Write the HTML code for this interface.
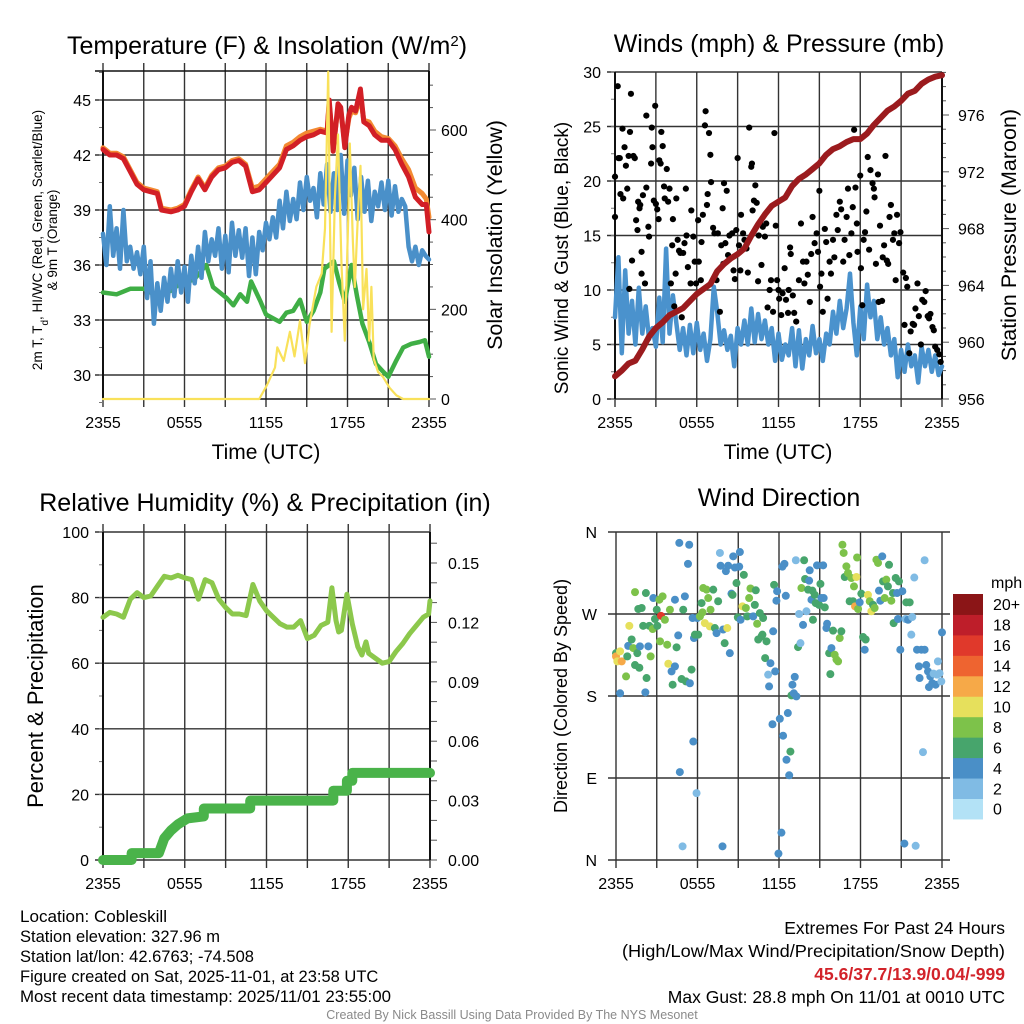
<!DOCTYPE html>
<html><head><meta charset="utf-8"><style>
html,body{margin:0;padding:0;background:#fff;}
svg{display:block;font-family:"Liberation Sans",sans-serif;}
</style></head><body>
<svg id="fig" width="1024" height="1024" viewBox="0 0 1024 1024" xmlns="http://www.w3.org/2000/svg">
<rect width="1024" height="1024" fill="#fff"/>
<text x="267" y="54" font-size="25" text-anchor="middle">Temperature (F) &amp; Insolation (W/m<tspan baseline-shift="super" font-size="15">2</tspan>)</text>
<text x="779" y="52" font-size="25" text-anchor="middle">Winds (mph) &amp; Pressure (mb)</text>
<text x="265" y="511" font-size="25" text-anchor="middle">Relative Humidity (%) &amp; Precipitation (in)</text>
<text x="779" y="506" font-size="25" text-anchor="middle">Wind Direction</text>

<g font-size="13.5" text-anchor="middle">
<text transform="translate(42,240) rotate(-90)">2m T, T<tspan baseline-shift="sub" font-size="10">d</tspan>, HI/WC (Red, Green, Scarlet/Blue)</text>
<text transform="translate(57,240) rotate(-90)">&amp; 9m T (Orange)</text>
</g>
<text transform="translate(502,235) rotate(-90)" font-size="21.5" text-anchor="middle">Solar Insolation (Yellow)</text>
<text transform="translate(568,258) rotate(-90)" font-size="19" text-anchor="middle">Sonic Wind &amp; Gust (Blue, Black)</text>
<text transform="translate(1016,235) rotate(-90)" font-size="21.5" text-anchor="middle">Station Pressure (Maroon)</text>
<text transform="translate(43,696) rotate(-90)" font-size="22" text-anchor="middle">Percent &amp; Precipitation</text>
<text transform="translate(567,696) rotate(-90)" font-size="18" text-anchor="middle">Direction (Colored By Speed)</text>
<text x="266" y="459" font-size="21" text-anchor="middle">Time (UTC)</text>
<text x="778" y="459" font-size="21" text-anchor="middle">Time (UTC)</text>

<g id="layer"></g>

<g font-size="16.5">
<text x="20" y="922" textLength="147" lengthAdjust="spacingAndGlyphs">Location: Cobleskill</text>
<text x="20" y="942">Station elevation: 327.96 m</text>
<text x="20" y="962">Station lat/lon: 42.6763; -74.508</text>
<text x="20" y="982">Figure created on Sat, 2025-11-01, at 23:58 UTC</text>
<text x="20" y="1002" textLength="371" lengthAdjust="spacingAndGlyphs">Most recent data timestamp: 2025/11/01 23:55:00</text>
</g>
<g font-size="17.5" text-anchor="end">
<text x="1005" y="934">Extremes For Past 24 Hours</text>
<text x="1005" y="957" textLength="383" lengthAdjust="spacingAndGlyphs">(High/Low/Max Wind/Precipitation/Snow Depth)</text>
<text x="1005" y="980" fill="#d2232a" font-weight="bold">45.6/37.7/13.9/0.04/-999</text>
<text x="1005" y="1003">Max Gust: 28.8 mph On 11/01 at 0010 UTC</text>
</g>
<text x="512" y="1019" font-size="12.5" fill="#8a8a8a" text-anchor="middle">Created By Nick Bassill Using Data Provided By The NYS Mesonet</text>
</svg>
<script>
// ---- x-axis ----
const timeTickLabels = ["2355","0555","1155","1755","2355"];
// ---- Panel 1: temperature ----
const redT = [0,0.5,1,1.5,2,2.5,3,3.5,4,4.3,5,5.5,6,6.5,7,7.5,8,8.5,9,9.5,10,10.5,11,11.5,12,12.5,13,13.5,14,14.5,15,15.5,16,16.5,16.65,16.95,17.3,17.5,17.8,18.1,18.3,18.6,18.95,19.2,19.6,20,20.5,21,21.5,22,22.5,23,23.5,23.8,24];
const redV = [42.3,42.0,42.0,41.8,41.1,40.4,40.1,40.0,39.9,39.0,38.9,39.0,39.2,40.0,40.7,40.1,40.8,41.2,41.3,41.6,41.7,41.4,40.0,40.1,40.5,40.9,41.3,42.3,42.5,42.8,43.0,43.1,43.3,43.2,45.0,42.2,44.8,44.6,42.4,44.2,44.6,44.4,45.6,43.8,43.6,43.1,42.8,42.8,42.3,41.5,40.8,39.7,39.3,39.3,37.8];
const orangeV = [42.4,42.1,42.1,41.9,41.2,40.5,40.2,40.1,40.0,39.1,39.0,39.1,39.3,40.1,40.8,40.2,40.9,41.3,41.4,41.7,41.8,41.5,40.2,40.3,40.7,41.1,41.5,42.5,42.7,43.0,43.2,43.3,43.4,43.3,44.8,42.4,44.6,44.5,42.6,44.0,44.4,44.3,45.2,43.9,43.8,43.3,43.0,42.9,42.5,41.8,41.2,40.2,39.9,39.6,38.6];
const blueV = [37.7,36.0,39.2,36.5,38.0,35.8,39.0,36.2,37.0,35.8,36.7,35.5,37.0,34.2,36.2,32.8,35.0,33.5,35.3,34.0,35.8,34.3,36.2,34.5,35.9,34.0,36.5,35.0,37.0,35.3,37.8,36.2,37.4,36.5,38.0,35.8,37.6,35.6,38.3,36.5,37.9,36.4,38.0,35.4,37.5,35.5,37.8,36.8,38.3,37.4,38.6,37.5,39.5,38.0,40.0,38.4,39.6,38.5,40.5,39.0,40.8,39.5,40.2,38.6,41.0,39.3,41.5,38.9,41.0,39.0,42.0,38.8,41.7,39.8,41.3,38.5,40.8,38.9,40.6,38.4,40.0,39.2,40.5,39.0,40.6,38.7,40.3,38.9,39.6,39.2,37.0,36.2,37.0,36.0,36.8,36.5,36.3];
const greenT = [0,1,2,3,4,5,5.7,6.7,7.6,8.1,9.1,9.6,10.1,10.6,10.9,11.6,12,13,13.5,14,14.5,15,15.5,16,16.3,17,17.4,17.8,18.3,18.7,19.1,19.6,20.1,20.6,21,21.6,22.1,22.7,23.3,23.7,24];
const greenV = [34.5,34.4,34.7,34.7,34.3,34.6,35.0,35.2,36.0,34.8,34.2,33.8,34.4,34.0,35.1,34.0,33.3,32.9,33.4,33.5,34.1,32.9,33.5,34.5,35.8,36.2,35.0,34.0,36.0,34.3,32.8,31.8,30.6,30.2,29.9,30.8,31.5,31.7,31.8,31.9,31.0];
const solarT = [0,11.5,12.05,12.66,12.83,13.3,13.76,14.1,14.5,14.87,15.2,15.7,16.1,16.34,16.58,16.7,16.83,17.07,17.3,17.56,17.8,18.05,18.17,18.4,18.54,18.78,18.96,19.15,19.4,19.6,19.76,19.93,20.25,20.6,21.1,21.6,22.1,24];
const solarV = [0,0,30,70,115,85,150,95,175,80,165,250,280,380,730,420,150,450,590,300,130,400,570,350,250,420,520,200,290,130,250,90,60,50,25,8,0,0];
const tempTicks = [30,33,36,39,42,45];
const solarTicks = [0,200,400,600];
// ---- Panel 2: winds ----
const windV = [7.5,13.0,4.2,11.8,6.0,9.0,5.0,10.2,6.0,8.5,5.5,6.5,4.8,9.3,5.2,13.8,6.0,9.5,7.0,4.5,6.5,4.0,6.8,4.2,7.0,4.5,6.0,3.5,5.5,10.3,8.0,5.0,6.3,4.5,5.8,3.0,6.5,5.0,7.2,5.0,8.3,5.2,7.8,5.5,7.2,5.0,6.5,3.5,6.0,3.6,5.0,4.0,6.5,3.0,6.3,2.8,5.5,4.0,6.7,4.2,5.5,3.5,6.0,5.0,8.0,6.0,9.0,6.5,8.3,11.5,7.0,4.0,8.5,5.5,10.5,7.5,9.0,5.5,7.5,5.0,6.5,4.0,5.5,2.0,4.5,2.5,5.0,3.0,4.0,1.5,4.8,3.0,4.5,2.5,4.0,2.2,3.0];
const gustT = [0,0,0.2,0.25,0.35,0.4,0.55,0.6,0.7,0.8,0.9,1.0,1.05,1.1,1.17,1.25,1.35,1.45,1.55,1.65,1.7,1.8,1.85,1.95,1.95,2.05,2.2,2.3,2.3,2.45,2.5,2.65,2.7,2.75,2.85,2.95,3.0,3.1,3.2,3.25,3.35,3.4,3.5,3.6,3.65,3.8,3.9,4.0,4.1,4.2,4.25,4.35,4.45,4.5,4.6,4.7,4.8,4.9,5.0,5.1,5.2,5.25,5.35,5.55,5.6,5.75,5.85,5.95,6.1,6.15,6.3,6.35,6.45,6.6,6.65,6.75,6.8,6.9,7.0,7.05,7.2,7.3,7.45,7.55,7.7,7.8,7.9,7.95,8.0,8.1,8.2,8.3,8.4,8.6,8.7,8.8,8.9,9.0,9.1,9.2,9.25,9.4,9.5,9.65,9.75,9.85,10.0,10.05,10.1,10.2,10.3,10.4,10.5,10.55,10.65,10.75,10.85,11.0,11.1,11.2,11.35,11.45,11.6,11.7,11.8,11.9,12.0,12.05,12.2,12.3,12.45,12.55,12.7,12.75,12.85,12.9,13.05,13.15,13.3,13.5,13.65,13.8,13.9,14.05,14.15,14.3,14.4,14.5,14.65,14.8,14.9,15.0,15.05,15.15,15.25,15.4,15.5,15.6,15.75,15.85,16.0,16.1,16.25,16.35,16.5,16.6,16.75,16.85,17.0,17.1,17.2,17.35,17.45,17.55,17.65,17.75,17.8,18.0,18.05,18.15,18.25,18.35,18.45,18.55,18.65,18.75,18.9,19.0,19.05,19.15,19.3,19.35,19.45,19.6,19.65,19.75,19.85,19.95,20.05,20.15,20.25,20.4,20.5,20.6,20.7,20.85,20.95,21.15,21.25,21.35,21.45,21.6,21.7,21.85,21.95,22.05,22.2,22.3,22.45,22.55,22.7,22.8,22.95,23.05,23.15,23.3,23.4,23.5,23.65,23.8,23.9];
const gustV = [16.7,20.4,28.7,22.1,22.1,18.8,24.8,18.4,23.1,21.4,19.3,22.3,10.1,24.5,28.0,12.7,22.3,22.1,16.4,15.5,18.1,17.5,17.8,13.5,11.5,18.7,10.6,26.0,19.4,15.8,14.9,21.6,24.9,23.1,18.2,26.9,17.9,17.4,16.5,21.9,21.6,24.5,23.2,19.5,18.4,21.1,18.1,19.3,10.6,14.1,16.5,8.5,11.5,18.4,14.6,13.6,13.4,7.5,13.4,14.3,19.3,15.0,12.1,10.6,17.3,14.9,12.6,10.6,16.4,12.6,10.9,14.4,16.9,25.1,26.4,17.8,18.8,24.4,22.4,19.9,15.7,15.2,10.9,15.2,8.0,14.1,17.5,12.4,19.8,14.3,19.1,13.2,15.0,15.2,11.8,11.0,15.5,22.1,14.1,11.8,16.9,15.2,14.6,13.8,11.6,24.9,21.3,21.6,17.3,18.2,19.6,18.0,10.8,15.0,16.1,12.3,15.8,14.9,16.1,8.4,10.0,10.9,8.0,24.4,15.9,10.9,10.0,9.2,7.7,9.7,12.0,9.1,7.9,10.0,13.9,13.3,9.5,7.9,7.1,10.9,16.1,12.6,10.6,12.6,11.4,8.9,13.3,16.7,14.3,15.2,13.5,19.1,10.3,11.5,8.0,15.6,14.4,9.2,12.6,11.5,14.6,13.0,16.9,15.5,18.1,17.4,12.6,14.6,16.7,19.3,13.2,15.2,17.6,24.7,19.4,16.1,13.5,20.5,12.0,8.6,14.6,15.3,17.2,22.2,13.7,21.0,19.8,19.3,18.5,12.4,20.6,8.9,15.9,9.0,13.0,14.1,22.3,12.7,12.4,16.7,17.8,14.6,15.2,10.9,16.9,14.3,15.3,11.6,6.8,11.1,10.3,4.2,6.2,6.9,6.8,8.3,10.6,7.6,5.0,9.1,8.9,9.9,7.6,7.4,7.8,6.6,6.3,4.8,4.5,4.1,3.4];
const presT = [0,0.5,1,1.5,2,2.5,3,3.5,4,5,6,7,7.5,8,8.5,9,9.5,10,10.5,11,11.5,12,12.5,13,13.5,14,14.5,15,15.5,16,16.5,17,17.5,18,18.5,19,19.5,20,20.5,21,21.5,22,22.5,23,23.5,24];
const presV = [957.6,958.0,958.5,958.7,959.5,960.4,961.0,961.4,961.9,962.4,963.4,964.1,965.0,965.5,965.9,966.2,966.6,967.5,968.3,969.0,969.6,969.9,970.2,971.0,971.5,971.8,972.2,972.6,973.2,973.6,973.8,974.1,974.3,974.3,974.7,975.3,975.8,976.3,976.6,977.0,977.5,977.7,978.2,978.5,978.7,978.8];
const windTicks = [0,5,10,15,20,25,30];
const presTicks = [956,960,964,968,972,976];
// ---- Panel 3: humidity ----
const rhT = [0,0.5,1,1.5,2,2.5,3,3.5,4,4.5,5,5.5,6,6.5,7,7.5,8,8.5,9,9.5,10,10.5,11,11.5,12,12.5,13,13.5,14,14.5,15,15.5,16,16.5,16.8,17.1,17.3,17.5,17.9,18.3,18.7,19,19.3,19.5,20,20.5,21,21.5,22,22.5,23,23.5,23.9,24];
const rhV = [74,75.5,75,74,79.5,81.5,80,80.5,83.5,86.5,86,86.8,86,85.5,79.5,85.5,84.5,79.5,77,75,75,74.5,84,79,76,74,72,71,71,73,67.5,68.5,71.5,72.5,83,73,69.5,70,81,72,65,62.5,66.5,63,61.5,60,60.5,63.5,66,69,71.5,74,75,79];
const precipT = [0,2.1,2.1,4.1,4.5,5.0,5.5,6.2,7.4,7.4,10.8,10.8,16.9,16.9,17.9,17.9,18.3,18.3,24];
const precipV = [0,0,0.0035,0.0035,0.011,0.015,0.018,0.021,0.022,0.026,0.026,0.030,0.030,0.035,0.035,0.040,0.040,0.044,0.044];
const rhTicks = [0,20,40,60,80,100];
const precipTicks = [0,0.03,0.06,0.09,0.12,0.15];
// ---- Panel 4: wind direction ----
const dirT = [0,0,0.1,0.3,0.42,0.3,0.74,0.83,0.9,0.98,1.15,1.27,1.4,1.4,1.57,1.64,1.72,1.76,1.89,2.0,2.16,2.2,2.25,2.38,2.45,2.55,2.7,2.75,2.87,3.0,3.04,3.19,3.24,3.31,3.43,3.6,3.77,3.85,3.97,4.09,4.17,4.34,4.34,4.46,4.58,4.66,4.7,4.83,4.9,4.95,5.07,5.15,5.3,5.39,5.44,5.56,5.64,5.69,5.74,5.81,5.93,5.98,6.05,6.18,6.3,6.37,6.42,6.54,6.67,6.79,6.91,6.96,7.16,7.28,7.4,7.52,7.65,7.7,7.84,7.89,8.0,8.09,8.19,8.26,8.38,8.5,8.58,8.63,8.75,8.87,8.97,9.07,9.12,9.17,9.31,9.41,9.56,9.66,9.8,9.9,10.1,10.22,10.29,10.39,10.47,10.59,10.71,10.78,10.83,10.98,11.08,11.2,11.27,11.37,11.52,11.57,11.64,11.72,11.81,11.86,11.96,12.06,12.18,12.25,12.3,12.4,12.5,12.55,12.65,12.75,12.84,12.92,12.99,13.09,13.16,13.24,13.28,13.4,13.48,13.58,13.65,13.77,13.85,13.92,14.02,14.14,14.22,14.26,14.39,14.46,14.5,14.63,14.7,14.8,14.95,15.05,15.12,15.25,15.29,15.37,15.49,15.54,15.69,15.78,15.86,15.98,16.1,16.23,16.35,16.47,16.59,16.67,16.76,16.84,16.96,17.08,17.2,17.33,17.45,17.52,17.6,17.7,17.75,17.82,17.94,18.06,18.19,18.31,18.38,18.55,18.68,18.8,18.92,19.04,19.17,19.29,19.36,19.46,19.6,19.66,19.78,19.9,20.02,20.1,20.27,20.39,20.44,20.59,20.69,20.76,20.83,20.93,21.08,21.23,21.32,21.37,21.5,21.62,21.74,21.81,21.96,22.06,22.16,22.3,22.35,22.48,22.6,22.72,22.72,22.84,22.97,23.04,23.14,23.28,23.38,23.53,23.63,23.7,23.82,23.95,24.0];
const dirDeg = [227,223.5,218,229,218,183,201.5,223.5,235,257,242,232.6,294,214,227,275.5,211,234.5,276.6,257,184,293,199.7,234.5,257,223.5,253.5,287.5,264.5,274.7,257,285.7,240,268,289.4,263.7,236.3,215.4,274.7,207,192.4,212.5,285.7,233.4,246.5,348,96.5,198.6,15,274.7,289.4,196,325,346,194,209,265.6,130,243.6,247.3,73.4,265.6,247.3,267.4,282,271.8,298.5,260,296.7,287.5,256.4,274.7,296.7,254.6,249,284,337,323,15,253,238,317,254.6,323,227,292.3,291,333.3,321,304,266.3,322,338,263.7,278.4,313,276.6,267.4,287.5,298,267.4,280,296,259.3,242,271,245.4,247.3,265.6,221.6,240,203.4,190.5,216,149,251,302,207,284.6,295,7,155,30,322,136.4,325,290,110,161.3,93,119,180.7,192.4,183,201,329,179.6,233.7,270,238,298.5,258,329,308.4,273,296.7,306.6,318,285.7,295.6,263.7,291,282,323.4,280,303,287.5,323.4,287.5,277.3,254.6,259.3,227,204,232.6,251.7,225.3,220,218,243.6,251,346,337,310.6,322.3,315,284,309.5,284,300.3,278.4,310.6,332,275.5,282.8,292.3,244.7,230.8,242,291,284,273,280,276.6,329.6,326,295.6,284.6,333.3,305.8,287.5,307.7,300.3,324,284.6,293,260,309.5,293,264.5,305.8,230.8,295,18,264.5,282.8,263.7,282.8,247.3,266.7,310,15.6,230.8,212.5,199.7,230.8,118.4,329,230.8,214,207,189.8,201.5,194,204.5,192.4,203.4,218,205,196,249.8];
const dirSpd = [6,12,10,10,12,4,8,6,4,10,6,8,8,6,6,6,6,4,6,6,4,6,6,4,6,8,8,4,6,6,6,8,8,15,8,8,8,10,8,4,6,4,4,6,4,4,4,6,2,6,4,6,4,4,4,6,4,4,4,6,2,4,6,8,6,8,8,10,8,8,10,8,6,6,4,6,2,4,4,4,6,4,10,4,4,4,6,4,4,6,6,4,4,4,10,6,8,6,8,8,4,6,6,8,6,6,6,6,6,6,6,2,4,4,4,4,6,4,4,4,4,4,4,4,4,4,4,4,4,4,6,6,4,4,4,2,4,6,2,2,8,4,6,6,2,6,4,4,4,6,6,6,6,4,6,6,4,4,4,6,4,4,6,6,4,6,8,8,8,8,6,8,8,6,8,8,6,8,6,8,12,10,8,8,4,6,6,4,6,10,8,10,6,8,8,8,4,4,4,6,8,8,6,6,8,6,6,6,4,4,6,4,4,4,2,6,4,6,2,2,2,2,4,4,4,4,2,2,4,4,4,4,4,4,2,4,2,2,2,2,4];
const dirTicks = ["N","E","S","W","N"];
const speedColors = ['#b3e2f6','#80bbe4','#4a8fc7','#47a56c','#7dc24a','#e6e05c','#f6a948','#ee6430','#e0392b','#be1e2a','#8b1517'];
const speedLabels = ["0","2","4","6","8","10","12","14","16","18","20+"];

const NS='http://www.w3.org/2000/svg';
const layer=document.getElementById('layer');
function mk(tag,attrs,parent){const e=document.createElementNS(NS,tag);for(const k in attrs)e.setAttribute(k,attrs[k]);(parent||layer).appendChild(e);return e;}
function txt(x,y,s,size,anchor,parent){const t=mk('text',{x:x,y:y,'font-size':size,'text-anchor':anchor},parent);t.textContent=s;return t;}
function xs(p){return t=>p.L+t/24*(p.R-p.L);}
function lin(d0,d1,p0,p1){return v=>p0+(v-d0)/(d1-d0)*(p1-p0);}
function path(xf,yf,T,V,attrs,parent){let d='';for(let i=0;i<V.length;i++){d+=(i?'L':'M')+xf(T[i]).toFixed(1)+','+yf(V[i]).toFixed(1);}return mk('path',Object.assign({d:d,fill:'none','stroke-linejoin':'round','stroke-linecap':'round'},attrs),parent);}
function evenT(n){const a=[];for(let i=0;i<n;i++)a.push(i*24/(n-1));return a;}

function frame(p,name){
  const g=mk('g',{});
  
  
  const X=xs(p);
  for(let h=0;h<=24;h+=3){const x=X(h);mk('line',{x1:x,y1:p.T-(p.topExt||0),x2:x,y2:p.B+8,stroke:'#333','stroke-width':1.4},g);}
  for(let i=0;i<timeTickLabels.length;i++){const t=txt(X(i*6),p.B+29,timeTickLabels[i],16,'middle',g);
    
    }
  return g;
}

// ===== Panel 1 =====
const P1={L:103,R:429,T:71,B:399,topExt:8};
(function(){
  const p=P1,X=xs(p),yT=lin(45,30,100,375),yS=lin(0,600,399,130);
  const g=frame(p,'temperature');
  mk('line',{x1:p.L-8,y1:p.T,x2:p.R,y2:p.T,stroke:'#111','stroke-width':1.5},g);
  for(const v of tempTicks){const y=yT(v);mk('line',{x1:p.L-8,y1:y,x2:p.R,y2:y,stroke:'#333','stroke-width':1.4},g);
    const t=txt(p.L-12,y+6,String(v),16,'end',g);}
  for(let v=28.5;v<=46.5;v+=1.5){mk('line',{x1:p.L-4,y1:yT(v),x2:p.L,y2:yT(v),stroke:'#777'},g);}
  for(let v=0;v<=700;v+=50){mk('line',{x1:p.R,y1:yS(v),x2:p.R+(v%200?4:7),y2:yS(v),stroke:'#555'},g);}
  for(const v of solarTicks){const t=txt(p.R+12,yS(v)+6,String(v),16,'start',g);}
  mk('line',{x1:p.L,y1:p.T,x2:p.L,y2:p.B,stroke:'#111','stroke-width':2},g);
  mk('line',{x1:p.R,y1:p.T,x2:p.R,y2:p.B,stroke:'#111','stroke-width':2},g);
  mk('line',{x1:p.L,y1:p.B,x2:p.R,y2:p.B,stroke:'#111','stroke-width':1.5},g);
  let e;
  e=path(X,yT,greenT,greenV,{stroke:'#3fae45','stroke-width':4.5});
  e=path(X,yT,evenT(blueV.length),blueV,{stroke:'#4a90c9','stroke-width':4.5});
  e=path(X,yT,redT,orangeV,{stroke:'#f38a32','stroke-width':5});
  e=path(X,yT,redT,redV,{stroke:'#d21f26','stroke-width':5});
  e=path(X,yS,solarT,solarV,{stroke:'#f9e15a','stroke-width':2.2});
})();

// ===== Panel 2 =====
const P2={L:615,R:942,T:72,B:399,topExt:0};
(function(){
  const p=P2,X=xs(p),yW=lin(0,30,399,72),yP=lin(956,976,399,115);
  const g=frame(p,'winds');
  for(const v of windTicks){const y=yW(v);mk('line',{x1:p.L-8,y1:y,x2:p.R,y2:y,stroke:'#333','stroke-width':1.4},g);
    const t=txt(p.L-14,y+6,String(v),16,'end',g);}
  for(let v=0;v<=30;v+=2.5){mk('line',{x1:p.L-4,y1:yW(v),x2:p.L,y2:yW(v),stroke:'#777'},g);}
  for(let v=956;v<=979;v++){mk('line',{x1:p.R,y1:yP(v),x2:p.R+(v%4?4:7),y2:yP(v),stroke:'#555'},g);}
  for(const v of presTicks){const t=txt(p.R+16,yP(v)+6,String(v),16,'start',g);}
  mk('line',{x1:p.L,y1:p.T,x2:p.L,y2:p.B,stroke:'#111','stroke-width':2},g);
  mk('line',{x1:p.R,y1:p.T,x2:p.R,y2:p.B,stroke:'#111','stroke-width':2},g);
  let e=path(X,yW,evenT(windV.length),windV,{stroke:'#4a92cd','stroke-width':4.5});
  const gg=mk('g',{});
  for(let i=0;i<gustV.length;i++){const c=mk('circle',{cx:X(gustT[i]),cy:yW(gustV[i]),r:3.1,fill:'#000'},gg);
    
    }
  e=path(X,yP,presT,presV,{stroke:'#9b1b1e','stroke-width':6});
})();

// ===== Panel 3 =====
const P3={L:103,R:430,T:532,B:860,topExt:8};
(function(){
  const p=P3,X=xs(p),yR=lin(0,100,860,532),yPr=lin(0,0.15,860,563);
  const g=frame(p,'humidity');
  for(const v of rhTicks){const y=yR(v);mk('line',{x1:p.L-8,y1:y,x2:p.R,y2:y,stroke:'#333','stroke-width':1.4},g);
    const t=txt(p.L-14,y+6,String(v),16,'end',g);}
  for(let v=0;v<=100;v+=10){mk('line',{x1:p.L-4,y1:yR(v),x2:p.L,y2:yR(v),stroke:'#777'},g);}
  for(let v=0;v<=0.165;v+=0.01){mk('line',{x1:p.R,y1:yPr(v),x2:p.R+7,y2:yPr(v),stroke:'#555'},g);}
  for(const v of precipTicks){const t=txt(p.R+18,yPr(v)+6,v.toFixed(2),16,'start',g);}
  mk('line',{x1:p.L,y1:p.T,x2:p.L,y2:p.B,stroke:'#111','stroke-width':2},g);
  mk('line',{x1:p.R,y1:p.T,x2:p.R,y2:p.B,stroke:'#111','stroke-width':2},g);
  let e=path(X,yR,rhT,rhV,{stroke:'#8cc84c','stroke-width':5});
  e=path(X,yPr,precipT,precipV,{stroke:'#4ab34a','stroke-width':10});
})();

// ===== Panel 4 =====
const P4={L:616,R:942,T:532,B:860,topExt:0};
(function(){
  const p=P4,X=xs(p),yD=lin(0,360,860,532);
  const g=frame(p,'direction');
  for(let i=0;i<dirTicks.length;i++){const y=yD(i*90);mk('line',{x1:p.L-8,y1:y,x2:p.R+8,y2:y,stroke:'#333','stroke-width':1.4},g);
    const t=txt(p.L-19,y+6,dirTicks[i],16,'end',g);}
  const dg=mk('g',{});
  for(let i=0;i<dirDeg.length;i++){const ci=Math.min(10,Math.round(dirSpd[i]/2));
    const c=mk('circle',{cx:X(dirT[i]),cy:yD(dirDeg[i]),r:4,fill:speedColors[ci]},dg);
    
    }
  const cb=mk('g',{});
  const top=594,bh=20.45;
  for(let i=0;i<speedColors.length;i++){const y=top+(10-i)*bh;
    const r=mk('rect',{x:953,y:y,width:30,height:bh+0.5,fill:speedColors[i]},cb);
    
    
    const t=txt(993,y+bh/2+6,speedLabels[i],16,'start',cb);
    
    }
  const u=txt(991,588,'mph',16,'start',cb);
  
  
})();
</script>
</body></html>
